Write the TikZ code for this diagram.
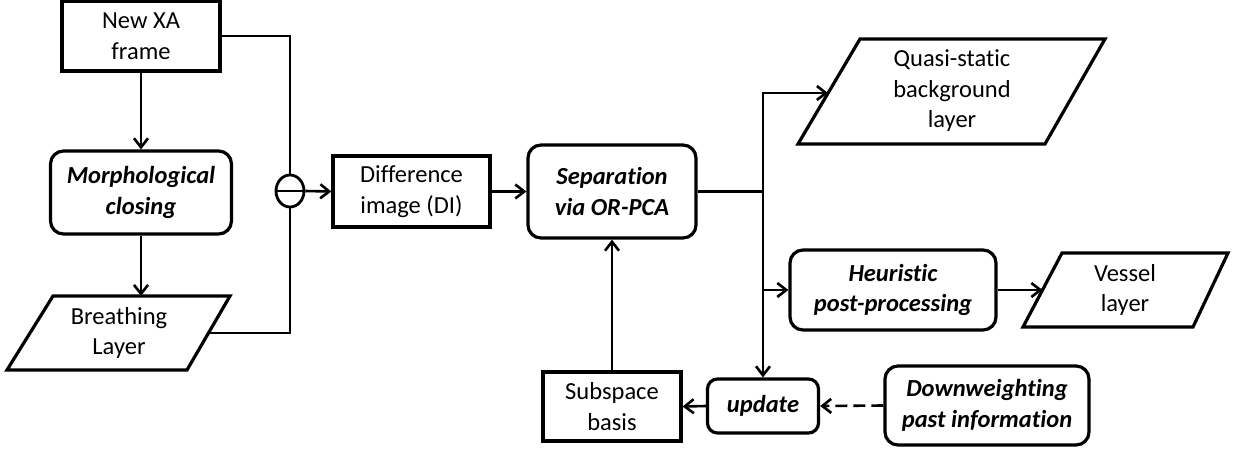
\documentclass[tikz,border=0pt]{standalone}
\usepackage{fontspec}
\setmainfont[Ligatures={NoCommon}]{Carlito}
\usetikzlibrary{arrows.meta,shapes.geometric,calc}
\begin{document}
\begin{tikzpicture}[x=1pt,y=-1pt,
  every node/.style={font=\fontsize{24.5}{30.5}\selectfont, align=center, inner sep=0pt},
  plainbox/.style={draw, line width=3.2pt, rectangle},
  procbox/.style={draw, line width=3.2pt, rectangle, rounded corners=13pt, font=\fontsize{24.5}{30.5}\selectfont\bfseries\itshape},
  databox/.style={draw, line width=3.2pt, line join=miter},
  conn/.style={line width=2.6pt},
  arr/.style={conn, -{Straight Barb[length=9pt,width=14pt]}},
  dasharr/.style={arr, dash pattern=on 12pt off 6pt}
]
\useasboundingbox (0,0) rectangle (1235,450);

% left column
\node[plainbox, minimum width=158pt, minimum height=70pt] (xa) at (141,36) {New XA\\frame};
\node[procbox, minimum width=181pt, minimum height=83pt] (morph) at (141,192.5) {Morphological\\closing};
\draw[databox] (53,296) -- (230,296) -- (187,370) -- (7,370) -- cycle;
\node (breath) at (119,333) {Breathing\\Layer};
\coordinate (bIn) at (141,296);
\coordinate (bOut) at (208.5,333);

% subtraction symbol
\node[draw, ellipse, line width=2.8pt, minimum width=28pt, minimum height=32pt] (circ) at (290,191) {};
\draw[line width=2.6pt] (circ.west) -- (circ.east);

% middle
\node[plainbox, minimum width=157pt, minimum height=71pt] (di) at (411.5,191.5) {Difference\\image (DI)};
\node[procbox, minimum width=168pt, minimum height=93pt] (sep) at (612,191.5) {Separation\\via OR-PCA};
\node[plainbox, minimum width=138pt, minimum height=69pt] (sub) at (612,406.5) {Subspace\\basis};
\node[procbox, rounded corners=10pt, minimum width=111pt, minimum height=54pt] (upd) at (763,406) {update};
\node[procbox, minimum width=204pt, minimum height=79pt] (down) at (987,405.5) {Downweighting\\past information};

% right
\draw[databox] (860,39) -- (1105,39) -- (1045,144) -- (798,144) -- cycle;
\node (quasi) at (952,91) {Quasi-static\\background\\layer};
\coordinate (qIn) at (828,93);
\node[procbox, minimum width=206pt, minimum height=80pt] (heur) at (893,290) {Heuristic\\post-processing};
\draw[databox] (1062,253) -- (1228,253) -- (1193,327) -- (1023,327) -- cycle;
\node (vessel) at (1125,290) {Vessel\\layer};
\coordinate (vIn) at (1042.5,290);

% junction
\coordinate (jn) at (763,191.5);

% connectors
\draw[arr] (xa.south) -- (morph.north);
\draw[arr] (morph.south) -- (bIn);
\draw[conn] (xa.east) -| (circ.north);
\draw[conn] (bOut) -| (circ.south);
\draw[arr] (circ.east) -- (di.west);
\draw[arr] (di.east) -- (sep.west);
\draw[conn] (sep.east) -- (jn);
\draw[arr] (jn) |- (qIn);
\draw[arr] (jn) -- (upd.north);
\draw[arr] (jn |- heur.west) -- (heur.west);
\draw[arr] (heur.east) -- (vIn);
\draw[arr] (sub.north) -- (sep.south);
\draw[arr] (upd.west) -- (sub.east);
\draw[dasharr] (down.west) -- (upd.east);
\end{tikzpicture}
\end{document}
